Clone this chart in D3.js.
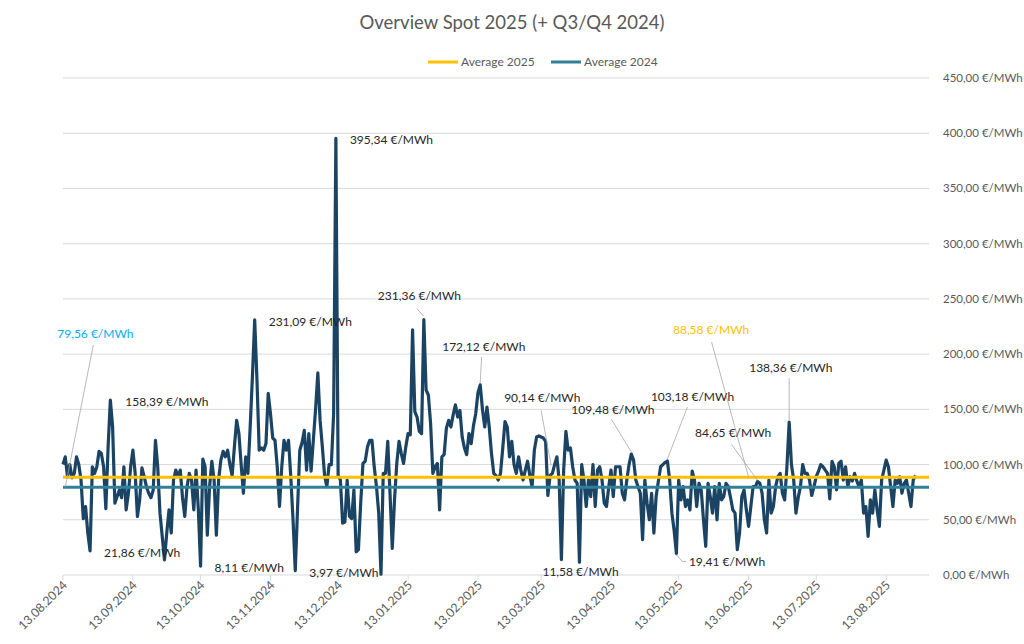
<html>
<head>
<meta charset="utf-8">
<script src="https://cdnjs.cloudflare.com/ajax/libs/d3/7.8.5/d3.min.js"></script>
<style>
  body { margin: 0; background: #ffffff; }
  svg { font-family: Lato, "Open Sans", sans-serif; }
  .grid line { stroke: #d9d9d9; stroke-width: 1; }
  .axis text { fill: #595959; font-size: 11.5px; }
  .xlab { fill: #595959; font-size: 12.3px; }
  .lbl { fill: #262626; font-size: 12px; }
  .leader { stroke: #a6a6a6; stroke-width: 0.8; fill: none; }
</style>
</head>
<body>
<svg id="chart" width="1024" height="644"></svg>
<script>
// daily spot prices (EUR/MWh), first day 13.08.2024
var startDay = Date.UTC(2024, 7, 13);
var prices = [
  100, 107, 89, 100, 88, 92, 107, 100, 86, 51,
  62, 38, 21.86, 98, 92, 98, 112, 110, 98, 60,
  116, 158.39, 134, 65, 71, 77, 70, 98, 59, 74,
  98, 113, 92, 53, 68, 97, 89, 80, 74, 70,
  77, 122, 98, 56, 35, 13.6, 38, 59, 38, 86,
  95, 89, 95, 70, 53, 80, 92, 86, 59, 95,
  60, 8.11, 105, 98, 36, 80, 103, 86, 36, 86,
  104, 112, 107, 113, 100, 90, 116, 140, 128, 100,
  74, 107, 92, 134, 180, 231.09, 177, 113, 115, 113,
  119, 164.5, 146, 124, 122, 98, 62, 98, 122, 113,
  122, 89, 50, 3.97, 60, 113, 120, 131, 95, 128,
  94, 122, 150, 183, 140, 116, 90, 80, 100, 100,
  146, 395.34, 90, 86, 47, 48, 86, 53, 51, 77,
  21, 23, 65, 101, 103, 116, 122, 122, 98, 80,
  56, 0.8, 92, 92, 121, 74, 24, 68, 101, 121,
  110, 101, 116, 128, 127, 222, 148, 143, 130, 128,
  231.36, 167.5, 163, 137, 92, 98, 101, 59, 107, 109,
  133, 140, 134, 145, 154, 143, 149, 125, 115, 109,
  128, 119, 135, 146, 165, 172.12, 150, 134, 152, 134,
  110, 92, 90, 86, 92, 115, 139, 134, 107, 121,
  100, 92, 107, 95, 86, 95, 103, 90, 80, 113,
  125, 126, 125, 124, 121, 72, 90.14, 92, 100, 107,
  86, 14, 95, 130, 113, 115, 98, 86, 83, 11.58,
  100, 86, 62, 86, 71, 100, 62, 95, 98, 86,
  65, 62, 80, 95, 71, 98, 98, 98, 74, 68,
  86, 100, 109.48, 104, 86, 80, 74, 32, 86, 65,
  50, 74, 38, 71, 85, 98, 100, 102, 103.18, 86,
  56, 40, 19.41, 86, 68, 80, 62, 68, 59, 94,
  86, 62, 83, 77, 50, 26, 83, 71, 56, 80,
  50, 83, 68, 71, 83, 80, 70, 59, 56, 23,
  38, 71, 77, 59, 44, 62, 80, 80, 84.65, 83,
  74, 50, 38, 86, 56, 62, 80, 89, 92, 74,
  68, 98, 138.36, 100, 86, 56, 70, 80, 100, 92,
  92, 86, 72, 80, 89, 94, 100, 98, 95, 92,
  69, 103, 98, 77, 101, 103, 86, 98, 80, 89,
  85, 92, 85, 80, 86, 56, 62, 35, 68, 56,
  77, 59, 44, 86, 95, 104, 98, 80, 62, 86,
  83, 89, 74, 83, 86, 74, 62, 86, 90
];
var averages = [
  { name: "Average 2025", value: 88.58, color: "#ffc000" },
  { name: "Average 2024", value: 79.56, color: "#31809a" }
];
var yTicks = [0, 50, 100, 150, 200, 250, 300, 350, 400, 450];
var tickMonths = d3.range(13); // 13th of each month from 08.2024

// labelled points: i = day index, avg = which average line
var notes = [
  { avg: 1, i: 1, dx: -8, dy: -153, color: "#00b0f0", lead: [[28, -142], [0, 0]] },
  { i: 21, dx: 15, dy: 2 },
  { i: 12, dx: 14, dy: 2 },
  { i: 85, dx: 14, dy: 2 },
  { i: 61, dx: 14, dy: 2 },
  { i: 103, dx: 14, dy: 2 },
  { i: 121, dx: 14, dy: 2 },
  { i: 160, dx: -46, dy: -23.5, lead: [[-7, -11], [0, -3]] },
  { i: 185, dx: -38, dy: -38, lead: [[1.4, -28], [0, -2]] },
  { i: 216, dx: -46, dy: -77, lead: [[-9, -65], [1, -10]] },
  { i: 229, dx: -37, dy: 10 },
  { i: 252, dx: -60, dy: -44, lead: [[-20, -35], [0, -2]] },
  { i: 268, dx: -16.5, dy: -64, lead: [[20, -54], [0, -2]] },
  { i: 272, dx: 12.5, dy: 8.5, lead: [[10, 8], [6, 8], [0, 1]] },
  { avg: 0, i: 304, dx: -75.6, dy: -147, color: "#ffc000", lead: [[-37, -135], [0, 0]] },
  { i: 308, dx: -62.6, dy: -48.5, lead: [[-26, -37], [0, -1]] },
  { i: 322, dx: -40, dy: -54, lead: [[0, -44], [0, -2]] }
];

var svg = d3.select("#chart");
var dayDate = function(i) { return new Date(startDay + i * 864e5); };

var x = d3.scaleUtc()
  .domain([new Date(startDay), new Date(Date.UTC(2025, 8, 1))])
  .range([63, 929]);
var y = d3.scaleLinear().domain([0, 450]).range([575, 78]);

var num = function(v) { return d3.format(".2f")(v).replace(".", ","); };
var eur = function(v) { return num(v) + " €/MWh"; };

// title
svg.append("text")
  .attr("x", 512).attr("y", 29)
  .attr("text-anchor", "middle")
  .style("font-size", "18.5px").style("fill", "#595959")
  .text("Overview Spot 2025 (+ Q3/Q4 2024)");

// legend
var legX = [428, 551];
averages.forEach(function(a, k) {
  svg.append("line")
    .attr("x1", legX[k]).attr("x2", legX[k] + 30)
    .attr("y1", 62).attr("y2", 62)
    .style("stroke", a.color).style("stroke-width", 3);
  svg.append("text")
    .attr("x", legX[k] + 33).attr("y", 66)
    .style("font-size", "12px").style("fill", "#595959")
    .text(a.name);
});

// grid + right axis
svg.append("g").attr("class", "grid")
  .selectAll("line")
  .data(yTicks.filter(function(t) { return t > 0; }))
  .enter().append("line")
  .attr("x1", 63).attr("x2", 929)
  .attr("y1", d => y(d)).attr("y2", d => y(d));

svg.append("g").attr("class", "axis")
  .selectAll("text")
  .data(yTicks)
  .enter().append("text")
  .attr("x", 943).attr("y", d => y(d) + 4)
  .text(eur);

// x axis
var tickDates = tickMonths.map(function(m) { return new Date(Date.UTC(2024, 7 + m, 13)); });
var xAxis = svg.append("g");
xAxis.append("line")
  .attr("x1", 63).attr("x2", 929)
  .attr("y1", y(0)).attr("y2", y(0))
  .style("stroke", "#d9d9d9");
xAxis.selectAll("line.tk")
  .data(tickDates)
  .enter().append("line").attr("class", "tk")
  .attr("x1", d => x(d)).attr("x2", d => x(d))
  .attr("y1", y(0)).attr("y2", y(0) + 5)
  .style("stroke", "#d9d9d9");
xAxis.selectAll("text")
  .data(tickDates)
  .enter().append("text")
  .attr("class", "xlab")
  .attr("transform", d => "translate(" + (x(d) + 5) + "," + (y(0) + 11) + ") rotate(-45)")
  .attr("text-anchor", "end")
  .text(d3.utcFormat("%d.%m.%Y"));

// spot line
var line = d3.line()
  .x(function(d, i) { return x(dayDate(i)); })
  .y(function(d) { return y(d); });
svg.append("path")
  .datum(prices)
  .attr("d", line)
  .style("fill", "none")
  .style("stroke", "#1b4464")
  .style("stroke-width", 3.2)
  .style("stroke-linejoin", "round");

// average lines
averages.forEach(function(a) {
  svg.append("line")
    .attr("x1", 63).attr("x2", 929)
    .attr("y1", y(a.value)).attr("y2", y(a.value))
    .style("stroke", a.color).style("stroke-width", 3);
});

// labels
notes.forEach(function(n) {
  var v = n.avg !== undefined ? averages[n.avg].value : prices[n.i];
  var px = x(dayDate(n.i)), py = y(v);
  if (n.lead) {
    svg.append("polyline")
      .attr("class", "leader")
      .attr("points", n.lead.map(function(p) { return (px + p[0]) + "," + (py + p[1]); }).join(" "));
  }
  svg.append("text")
    .attr("class", "lbl")
    .attr("x", px + n.dx).attr("y", py + n.dy + 4)
    .style("fill", n.color || "#262626")
    .text(eur(v));
});
</script>
</body>
</html>
